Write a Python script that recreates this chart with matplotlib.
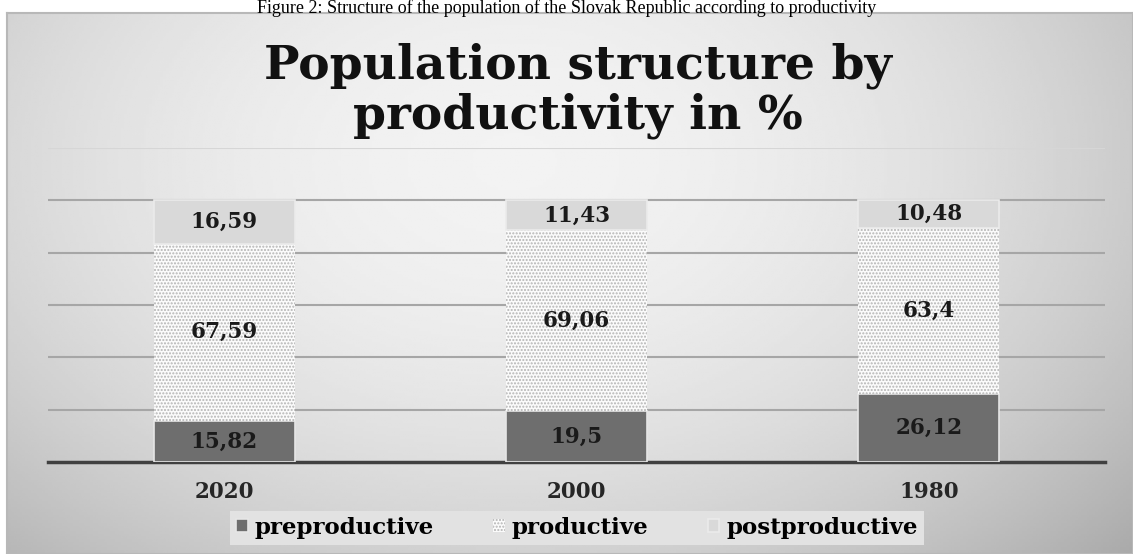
import numpy as np
import matplotlib.pyplot as plt

plt.rcParams['font.family'] = ['DejaVu Serif', 'Liberation Serif']
plt.rcParams['hatch.color'] = '#b4b4b4'
plt.rcParams['hatch.linewidth'] = 1.0

years = ['2020', '2000', '1980']
preproductive = [15.82, 19.5, 26.12]
productive = [67.59, 69.06, 63.4]
postproductive = [16.59, 11.43, 10.48]
series_names = ['preproductive', 'productive', 'postproductive']


def fmt(v):
    return f'{v:g}'.replace('.', ',')


fig = plt.figure(figsize=(11.33, 5.54), dpi=100)

# caption above the chart panel
fig.text(0.5, 1 - 13 / 554, 'Figure 2: Structure of the population of the Slovak Republic according to productivity',
         ha='center', va='baseline', fontsize=13, family='Liberation Serif', zorder=5)

# panel with a soft radial gray gradient
bg = fig.add_axes([7 / 1133, 0, 1 - 7 / 1133, 1 - 13 / 554], zorder=0)
gx, gy = np.meshgrid(np.linspace(-1, 1, 400), np.linspace(-1, 1, 200))
r = np.sqrt(((gx + 0.1) / 1.05) ** 2 + ((gy + 0.45) / 1.5) ** 2)
shade = np.clip(0.95 - 0.14 * r ** 2, 0, 1)
bg.imshow(shade, cmap='gray', vmin=0, vmax=1, aspect='auto', extent=[0, 1, 0, 1], origin='upper')
bg.set_xlim(0, 1)
bg.set_ylim(0, 1)
bg.set_xticks([])
bg.set_yticks([])
for s in bg.spines.values():
    s.set_color('#b8b8b8')
    s.set_linewidth(1.5)

ax = fig.add_axes([48 / 1133, 1 - 462 / 554, 1057 / 1133, 314 / 554], zorder=1)
ax.patch.set_alpha(0)

x = np.arange(len(years))
width = 0.4
b1 = ax.bar(x, preproductive, width, color='#6e6e6e', edgecolor='#e6e6e6', linewidth=1.2,
            label=series_names[0], zorder=3)
b2 = ax.bar(x, productive, width, bottom=preproductive, color='#fbfbfb', edgecolor='#b4b4b4',
            linewidth=0, hatch='.....', label=series_names[1], zorder=3)
bottom3 = np.array(preproductive) + np.array(productive)
b3 = ax.bar(x, postproductive, width, bottom=bottom3, color='#d9d9d9', edgecolor='#ebebeb',
            linewidth=1.2, label=series_names[2], zorder=3)

for bars, vals in [(b1, preproductive), (b2, productive), (b3, postproductive)]:
    for rect, v in zip(bars, vals):
        ax.text(rect.get_x() + rect.get_width() / 2, rect.get_y() + rect.get_height() / 2, fmt(v),
                ha='center', va='center', fontsize=15.5, fontweight='bold', color='#1a1a1a', zorder=4)

ax.set_xlim(-0.5, 2.5)
ax.set_ylim(0, 120)
ax.set_yticks(np.arange(20, 121, 20))
ax.tick_params(axis='y', left=False, labelleft=False)
ax.tick_params(axis='x', length=0, pad=14)
ax.set_xticks(x)
ax.set_xticklabels(years, fontsize=15.5, fontweight='bold', color='#262626')
ax.grid(axis='y', color='#a6a6a6', linewidth=1.5, zorder=1)
ax.yaxis.get_gridlines()[-1].set_color('#d6d6d6')
ax.set_axisbelow(True)
for side in ['top', 'right', 'left']:
    ax.spines[side].set_visible(False)
ax.spines['bottom'].set_color('#404040')
ax.spines['bottom'].set_linewidth(2.5)

fig.text(0.51, 1 - 91 / 554, 'Population structure by\nproductivity in %', ha='center', va='center',
         fontsize=34, fontweight='bold', color='#111111', linespacing=1.1)

leg = fig.legend(handles=[b1, b2, b3], labels=series_names, loc='center', ncol=3,
                 bbox_to_anchor=(577 / 1133, 1 - 528 / 554), frameon=True, fancybox=False,
                 handlelength=0.5, handleheight=0.5, handletextpad=0.3, columnspacing=2.6,
                 prop={'family': 'DejaVu Serif', 'weight': 'bold', 'size': 16.5},
                 borderpad=0.25, borderaxespad=0)
leg.get_frame().set_facecolor('#e2e2e2')
leg.get_frame().set_edgecolor('none')
leg.get_frame().set_alpha(1)

fig.savefig('out.png', dpi=100)
